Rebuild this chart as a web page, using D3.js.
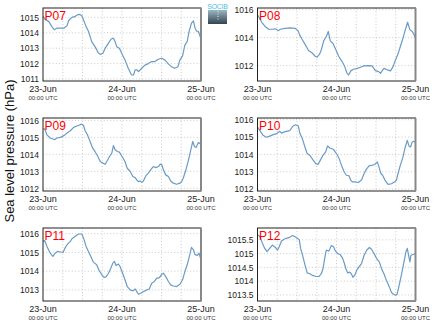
<!DOCTYPE html>
<html><head><meta charset="utf-8">
<script src="https://cdn.jsdelivr.net/npm/d3@7"></script>
<style>body{margin:0;background:#fff}svg{display:block}text{font-family:"Liberation Sans",Arial,sans-serif}</style>
</head><body>
<svg id="c" width="435" height="327"></svg>
<script>
const stations = ["P07","P08","P09","P10","P11","P12"];
const dateHours = [0,24,48];
const dateLabels = ["23-Jun","24-Jun","25-Jun"];
const timeLabel = "00:00 UTC";
const yLabel = "Sea level pressure (hPa)";

const p07 = [[0,1015.07],[0.7,1014.85],[1.7,1014.74],[2.7,1014.4],[3.4,1014.2],[4.2,1014.3],[6.3,1014.3],[7.3,1014.45],[7.8,1014.8],[8.8,1015.0],[9.8,1015.07],[10.5,1015.17],[11.1,1015.2],[11.8,1015.1],[12.3,1014.85],[13.1,1014.4],[13.8,1014.1],[14.8,1013.43],[15.8,1013.1],[16.8,1012.7],[17.4,1012.6],[18.2,1012.67],[18.9,1013.0],[19.9,1013.33],[20.7,1013.6],[21.4,1013.65],[21.9,1013.43],[22.4,1013.1],[23.2,1013.0],[23.9,1012.67],[24.9,1012.24],[25.9,1011.7],[26.9,1011.26],[27.5,1011.26],[28,1011.6],[28.5,1011.6],[29,1011.48],[30,1011.7],[31,1011.9],[32,1012.0],[33,1012.13],[34,1012.13],[35,1012.28],[36,1012.35],[37,1012.24],[38,1012.0],[39,1011.8],[40,1011.7],[41,1011.8],[41.6,1012.24],[42.4,1012.5],[43.1,1013.2],[43.8,1013.43],[44.4,1014.1],[45.1,1014.63],[45.7,1014.78],[46.2,1014.3],[46.7,1014.1],[47.2,1014.1],[48,1013.6]];
const p08 = [[0,1015.64],[0.6,1015.4],[1.3,1015.1],[2.3,1014.8],[3.4,1014.6],[4.4,1014.6],[5.4,1014.63],[6.4,1014.5],[6.9,1014.6],[8.4,1014.66],[9.9,1014.7],[11.5,1014.66],[12.3,1014.5],[12.8,1014.2],[13.5,1013.9],[14.5,1013.5],[15.5,1013.08],[16.6,1012.9],[17.6,1012.65],[18.1,1012.6],[18.9,1012.84],[19.4,1013.13],[20.1,1013.77],[20.9,1014.08],[21.5,1014.44],[22.1,1013.77],[22.9,1013.6],[23.6,1013.24],[24.7,1012.65],[25.7,1012.29],[26.5,1011.93],[27.2,1011.45],[27.7,1011.33],[28.4,1011.64],[29.2,1011.74],[30.3,1011.8],[31.3,1011.88],[32.3,1011.98],[33.8,1012.0],[34.8,1011.98],[35.8,1011.64],[36.8,1011.57],[37.4,1011.45],[37.9,1011.64],[38.4,1011.8],[39.4,1011.7],[40.4,1011.62],[41.2,1011.93],[41.9,1012.4],[42.6,1012.77],[43.4,1013.37],[44.2,1013.96],[44.9,1014.56],[45.6,1015.1],[46.3,1014.56],[47,1014.44],[47.6,1014.2],[48,1013.96]];
const p09 = [[0,1015.5],[0.5,1015.5],[1.2,1015.15],[2.2,1014.96],[3,1014.9],[3.5,1014.86],[4.2,1014.96],[5.3,1015.0],[6.3,1015.1],[7.3,1015.25],[8.3,1015.39],[9.3,1015.59],[10.5,1015.68],[11.8,1015.78],[12.3,1015.7],[12.8,1015.39],[13.5,1015.15],[14.3,1014.76],[15.1,1014.36],[15.8,1014.17],[16.5,1013.93],[17.4,1013.58],[18.2,1013.48],[18.9,1013.42],[19.4,1013.58],[20.2,1013.87],[20.9,1014.07],[21.4,1014.52],[21.9,1014.27],[22.6,1014.17],[23.2,1014.13],[24.2,1013.81],[24.9,1013.58],[25.6,1013.18],[26.5,1012.99],[27.3,1012.69],[28,1012.63],[28.5,1012.49],[29,1012.39],[29.5,1012.43],[30,1012.35],[30.5,1012.43],[31.3,1012.75],[32,1012.89],[32.7,1013.08],[33.5,1013.28],[34.3,1013.22],[35.1,1013.28],[35.6,1013.42],[36.1,1013.38],[36.6,1013.08],[37.3,1012.79],[38.1,1012.69],[38.8,1012.43],[39.6,1012.3],[40.6,1012.24],[41.6,1012.3],[42.1,1012.39],[42.6,1012.59],[43.4,1013.08],[44.1,1013.58],[44.8,1014.17],[45.5,1014.76],[46,1014.46],[46.5,1014.4],[47.2,1014.7],[48,1014.6]];
const p10 = [[0,1015.58],[0.7,1015.39],[1.7,1015.1],[2.7,1014.99],[3.5,1015.04],[4.8,1015.14],[5.8,1015.2],[6.8,1015.33],[7.3,1015.23],[8,1015.29],[8.8,1015.33],[9.8,1015.37],[10.8,1015.64],[11.6,1015.71],[12.4,1015.64],[12.9,1015.2],[13.7,1014.87],[14.4,1014.43],[15.1,1014.05],[15.9,1013.95],[16.9,1013.67],[17.7,1013.47],[18.4,1013.42],[19.1,1013.67],[19.9,1013.95],[20.7,1014.14],[21.3,1014.49],[22,1014.37],[23,1014.3],[24,1014.05],[24.8,1013.76],[25.5,1013.38],[26.3,1013.0],[27,1012.8],[27.8,1012.77],[28.3,1012.52],[28.8,1012.42],[29.6,1012.42],[30.6,1012.38],[31.6,1012.52],[32.4,1012.9],[33.1,1013.15],[33.9,1013.34],[34.9,1013.38],[35.6,1013.42],[36.4,1013.57],[36.9,1013.28],[37.5,1012.9],[38,1012.8],[38.7,1012.52],[39.7,1012.27],[40.7,1012.31],[41.7,1012.42],[42.2,1012.52],[42.7,1012.9],[43.4,1013.38],[44.2,1013.86],[44.9,1014.43],[45.5,1014.81],[46,1014.49],[46.5,1014.43],[47,1014.72],[47.5,1014.76],[48,1014.68]];
const p11 = [[0,1015.59],[0.5,1015.63],[1.2,1015.32],[2.2,1014.96],[3,1014.79],[3.7,1014.96],[4.4,1015.05],[5.3,1015.02],[6.1,1015.0],[6.6,1015.2],[7.3,1015.41],[8.3,1015.59],[8.8,1015.73],[9.8,1015.86],[10.8,1015.98],[11.8,1015.98],[12.3,1015.77],[13.1,1015.32],[13.8,1015.05],[14.5,1014.79],[15.3,1014.48],[16.3,1014.34],[17.1,1014.02],[17.9,1013.8],[18.6,1013.66],[19.2,1013.71],[19.9,1013.89],[20.6,1014.16],[21.2,1014.43],[21.7,1014.52],[22.2,1014.3],[22.9,1014.38],[23.4,1014.25],[24.2,1013.89],[24.9,1013.54],[25.6,1013.18],[26.5,1013.0],[27.3,1012.95],[28,1013.05],[28.5,1012.91],[29,1012.77],[29.7,1012.82],[30.5,1012.91],[31.5,1013.0],[32.3,1013.05],[33,1013.36],[33.8,1013.45],[34.6,1013.63],[35.4,1013.66],[36.1,1013.84],[36.6,1013.89],[37.3,1013.71],[38.1,1013.45],[38.8,1013.27],[39.6,1013.21],[40.6,1013.18],[41.6,1013.3],[42.4,1013.54],[43.1,1013.98],[43.8,1014.34],[44.6,1014.88],[45.1,1015.27],[45.7,1015.14],[46.2,1014.88],[46.9,1014.84],[47.4,1014.96],[48,1014.61]];
const p12 = [[0,1015.69],[0.7,1015.62],[1.5,1015.38],[2.2,1015.19],[2.9,1015.07],[3.7,1015.19],[4.5,1015.31],[5.3,1015.24],[6.1,1015.13],[6.6,1015.25],[7.3,1015.46],[8.3,1015.54],[9,1015.56],[9.8,1015.59],[10.6,1015.66],[11.3,1015.62],[12.1,1015.56],[12.7,1015.5],[13.1,1015.19],[13.7,1014.94],[14.4,1014.6],[15.1,1014.3],[15.9,1014.27],[16.9,1014.2],[17.9,1014.17],[18.7,1014.17],[19.4,1014.27],[19.9,1014.45],[20.4,1014.82],[20.9,1015.13],[21.7,1015.09],[22.4,1015.29],[23.1,1015.25],[23.7,1015.09],[24.4,1015.0],[25.1,1014.97],[25.9,1014.82],[26.4,1014.64],[26.9,1014.43],[27.4,1014.3],[28,1014.33],[28.5,1014.27],[29,1014.14],[29.6,1014.23],[30.1,1014.39],[30.8,1014.51],[31.6,1014.64],[32.4,1014.94],[33.2,1015.13],[34,1015.22],[34.7,1015.15],[35.4,1015.0],[36.2,1014.82],[37,1014.7],[37.7,1014.45],[38.4,1014.27],[39.2,1014.02],[40,1013.81],[40.7,1013.59],[41.4,1013.52],[42,1013.49],[42.4,1013.52],[43,1013.83],[43.8,1014.27],[44.5,1014.7],[45.1,1015.07],[45.5,1015.19],[46,1014.88],[46.3,1014.7],[46.6,1014.94],[47.3,1014.97],[48,1015.0]];
const series = [p07,p08,p09,p10,p11,p12];

const yDomains = [[1010.87,1015.61],[1010.9,1016.12],[1011.84,1016.14],[1011.89,1016.1],[1012.41,1016.3],[1013.28,1015.93]];
const yTicks = [[1011,1012,1013,1014,1015],[1012,1014,1016],[1012,1013,1014,1015,1016],[1012,1013,1014,1015,1016],[1013,1014,1015,1016],[1013.5,1014,1014.5,1015,1015.5]];

const cols = [[43,201],[257.5,415.5]];
const rows = [[8,81],[118,191],[228,301]];

const svg = d3.select("#c");

stations.forEach((name,i)=>{
  const [x0,x1] = cols[i%2];
  const [y0,y1] = rows[Math.floor(i/2)];
  const x = d3.scaleLinear().domain([0,48]).range([x0,x1]);
  const y = d3.scaleLinear().domain(yDomains[i]).range([y1,y0]);
  const g = svg.append("g");
  // grid
  g.selectAll(".vg").data(d3.range(6,48,6)).join("line")
    .attr("x1",d=>x(d)).attr("x2",d=>x(d)).attr("y1",y0).attr("y2",y1)
    .attr("stroke","#bdbdbd").attr("stroke-width",0.8).attr("stroke-dasharray","1,2.2");
  g.selectAll(".hg").data(yTicks[i]).join("line")
    .attr("x1",x0).attr("x2",x1).attr("y1",d=>y(d)).attr("y2",d=>y(d))
    .attr("stroke","#bdbdbd").attr("stroke-width",0.8).attr("stroke-dasharray","1,2.2");
  // line
  g.append("path").datum(series[i])
    .attr("fill","none").attr("stroke","#6a9bc6").attr("stroke-width",1.2)
    .attr("stroke-linejoin","round")
    .attr("d",d3.line().x(d=>x(d[0])).y(d=>y(d[1])));
  // frame
  g.append("rect").attr("x",x0).attr("y",y0).attr("width",x1-x0).attr("height",y1-y0)
    .attr("fill","none").attr("stroke","#222").attr("stroke-width",1);
  g.append("line").attr("x1",x1).attr("x2",x1).attr("y1",y0).attr("y2",y1)
    .attr("stroke","#888").attr("stroke-width",2);
  // y axis
  const ya = g.append("g").attr("transform",`translate(${x0},0)`)
    .call(d3.axisLeft(y).tickValues(yTicks[i]).tickSize(0).tickPadding(4).tickFormat(d3.format("")));
  ya.select(".domain").remove();
  ya.selectAll("text").attr("font-size",8.5).attr("fill","#222").attr("font-family","Liberation Sans, Arial, sans-serif");
  // x labels
  g.selectAll(".dl").data(dateHours).join("text")
    .attr("x",d=>x(d)).attr("y",y1+10.5).attr("text-anchor","middle")
    .attr("font-size",9).attr("fill","#222").text((d,j)=>dateLabels[j]);
  g.selectAll(".tl").data(dateHours).join("text")
    .attr("x",d=>x(d)).attr("y",y1+18.5).attr("text-anchor","middle")
    .attr("font-size",6).attr("fill","#333").text(timeLabel);
  // station label
  g.append("text").attr("x",x0+1.5).attr("y",y0+11.5)
    .attr("font-size",12).attr("fill","#ff0000").text(name);
});

// y label
svg.append("text").attr("transform","translate(14,151) rotate(-90)")
  .attr("text-anchor","middle").attr("font-size",13).attr("fill","#111").text(yLabel);

// logo
const defs = svg.append("defs");
const lg = defs.append("linearGradient").attr("id","lg").attr("x1",0).attr("x2",0).attr("y1",0).attr("y2",1);
lg.append("stop").attr("offset","0%").attr("stop-color","#9ab8c4");
lg.append("stop").attr("offset","100%").attr("stop-color","#34434e");
svg.append("rect").attr("x",208).attr("y",10).attr("width",19).attr("height",14).attr("fill","url(#lg)");
svg.append("line").attr("x1",218).attr("x2",218).attr("y1",11).attr("y2",20)
  .attr("stroke","#fff").attr("stroke-width",0.8).attr("stroke-dasharray","1,1.5");
svg.append("text").attr("x",217.5).attr("y",9).attr("text-anchor","middle")
  .attr("font-size",7).attr("fill","#4cc0dc").attr("letter-spacing",-0.3).text("SOCIB");
</script></body></html>
